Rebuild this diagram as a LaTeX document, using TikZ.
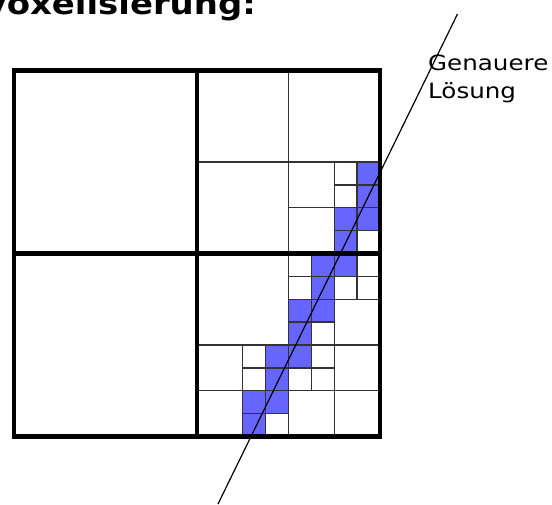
\documentclass[tikz,border=0pt]{standalone}
\usepackage{fontspec}
\newfontfamily\titlefont[FakeStretch=1.13]{DejaVu Sans}
\newfontfamily\labelfont[FakeStretch=1.17]{DejaVu Sans}
\definecolor{cellblue}{RGB}{102,102,255}
\tikzset{
  thin grid/.style={draw=black!80, line width=1.3pt},
  blue cell/.style={fill=cellblue, draw=black!80, line width=1.3pt},
  thick grid/.style={draw=black, line width=4.6pt},
  ray/.style={draw=black, line width=1.2pt},
}
\begin{document}
\begin{tikzpicture}[x=1pt,y=-1pt]
\useasboundingbox (0,0) rectangle (552,504);
\clip (0,0) rectangle (552,504);
\fill[white] (0,0) rectangle (552,504);
% title (cut off at the top)
\node[anchor=base east, inner sep=0pt, font=\titlefont\bfseries\fontsize{30}{36}\selectfont] (title) at (256,14) {Voxelisierung:};
% label
\node[anchor=base west, inner sep=0pt, align=left, font=\labelfont\fontsize{21}{28}\selectfont] (label) at (428,98) {Genauere\\Lösung};
\begin{scope}[shift={(14,70.5)}]
\begin{scope}[x=22.875pt, y=-22.875pt]
  % level-4 blocks (2x2 cells)
  \foreach \a/\b in {14/4, 14/6, 12/8, 14/8, 12/10, 10/12, 10/14, 12/12} {
    \foreach \i in {0,1} \foreach \j in {0,1}
      \draw[thin grid] (\a+\i,\b+\j) rectangle ++(1,1);
  }
  % blue cells
  \foreach \a/\b in {15/4, 15/5, 14/6, 15/6, 14/7, 13/8, 14/8, 13/9, 12/10, 13/10, 12/11, 11/12, 12/12, 11/13, 10/14, 11/14, 10/15}
    \draw[blue cell] (\a,\b) rectangle ++(1,1);
  % level-3 cells
  \foreach \a/\b in {12/4, 12/6, 8/12, 8/14, 14/10, 14/12, 12/14, 14/14}
    \draw[thin grid] (\a,\b) rectangle ++(2,2);
  % level-2 cells
  \foreach \a/\b in {8/0, 12/0, 8/4, 8/8}
    \draw[thin grid] (\a,\b) rectangle ++(4,4);
  % level-1 frame and cross
  \draw[thick grid] (0,0) rectangle (16,16);
  \draw[thick grid] (8,0) -- (8,16);
  \draw[thick grid] (0,8) -- (16,8);
\end{scope}
\end{scope}
% the exact boundary
\coordinate (rayA) at (218,504);
\coordinate (rayB) at (457.5,14);
\draw[ray] (rayA) -- (rayB);
\end{tikzpicture}
\end{document}
